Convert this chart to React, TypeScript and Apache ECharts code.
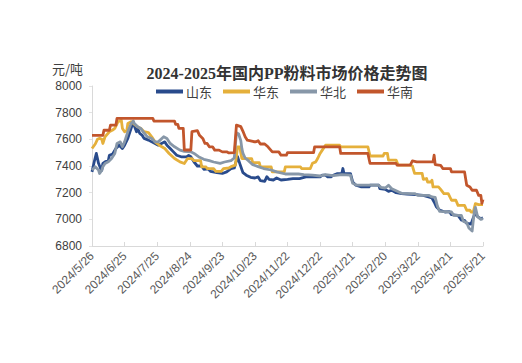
import React, { useEffect, useRef } from "react";
import * as echarts from "echarts";

const titleText = "2024-2025年国内PP粉料市场价格走势图";
const yAxisName = "元/吨";
const seriesNames = ["山东", "华东", "华北", "华南"];
const xTickLabels = [
  "2024/5/26", "2024/6/25", "2024/7/25", "2024/8/24", "2024/9/23", "2024/10/23",
  "2024/11/22", "2024/12/22", "2025/1/21", "2025/2/20", "2025/3/22", "2025/4/21", "2025/5/21",
];

// [day index from 2024/5/26, price]
const shandong: number[][] = [
  [0,7356],[2,7430],[4,7494],[6,7420],[8,7380],[9,7368],[10,7420],[12,7431],[15,7440],[16,7481],[19,7490],[22,7531],[25,7556],[28,7531],[30,7556],[33,7607],[36,7682],[38,7732],[39,7700],[41,7657],[42,7682],[44,7644],[46,7632],[48,7607],[52,7594],[55,7581],[58,7569],[61,7556],[64,7569],[67,7581],[69,7556],[72,7531],[75,7506],[78,7481],[82,7469],[87,7469],[89,7480],[91,7470],[94,7430],[97,7400],[101,7400],[103,7375],[107,7378],[109,7360],[115,7350],[120,7344],[124,7356],[128,7380],[131,7385],[134,7470],[136,7420],[139,7350],[142,7331],[146,7315],[150,7310],[153,7318],[155,7290],[159,7285],[161,7320],[163,7300],[167,7295],[170,7310],[174,7295],[180,7300],[185,7306],[191,7306],[197,7318],[210,7318],[212,7331],[215,7331],[217,7318],[220,7318],[222,7331],[226,7343],[230,7343],[231,7381],[232,7343],[238,7343],[240,7281],[243,7256],[248,7243],[255,7243],[256,7256],[264,7256],[265,7230],[270,7225],[273,7210],[276,7218],[280,7200],[285,7193],[290,7190],[298,7185],[305,7180],[309,7170],[313,7160],[315,7130],[317,7095],[320,7070],[325,7055],[329,7058],[331,7035],[337,7030],[340,6995],[343,6992],[345,6970],[349,6965],[351,7010],[353,7050],[355,7020],[358,7005],[360,7012],
];
const huadong: number[][] = [
  [0,7531],[3,7565],[5,7600],[7,7607],[9,7600],[10,7569],[12,7619],[16,7657],[19,7670],[21,7682],[24,7732],[27,7744],[28,7682],[30,7657],[32,7665],[33,7719],[36,7732],[38,7720],[42,7694],[45,7682],[48,7657],[52,7650],[55,7619],[58,7581],[62,7556],[67,7531],[71,7494],[76,7456],[81,7431],[85,7419],[88,7456],[92,7456],[94,7440],[100,7440],[101,7393],[105,7393],[106,7381],[112,7381],[114,7360],[119,7360],[121,7380],[126,7385],[128,7395],[132,7406],[134,7544],[136,7544],[137,7500],[138,7456],[147,7456],[148,7425],[154,7425],[155,7393],[165,7393],[166,7356],[177,7356],[178,7393],[192,7393],[193,7381],[201,7381],[203,7420],[206,7431],[208,7460],[210,7494],[212,7519],[215,7556],[228,7556],[229,7544],[254,7544],[256,7475],[268,7475],[269,7494],[272,7494],[273,7444],[280,7444],[282,7406],[293,7406],[295,7400],[297,7344],[304,7344],[305,7300],[308,7306],[309,7280],[312,7280],[313,7293],[314,7243],[319,7243],[321,7225],[324,7193],[328,7193],[330,7160],[331,7143],[335,7143],[337,7105],[343,7105],[345,7068],[348,7068],[349,7055],[351,7055],[353,7118],[356,7110],[360,7110],
];
const huabei: number[][] = [
  [0,7369],[3,7394],[6,7369],[7,7344],[9,7369],[10,7394],[12,7419],[15,7431],[18,7456],[21,7494],[23,7569],[26,7581],[28,7544],[30,7581],[33,7657],[36,7719],[38,7737],[39,7719],[42,7694],[45,7682],[47,7657],[51,7619],[55,7606],[58,7581],[61,7581],[66,7619],[69,7606],[72,7569],[76,7544],[81,7519],[85,7510],[91,7506],[94,7494],[99,7465],[103,7450],[108,7440],[112,7430],[118,7420],[122,7430],[128,7440],[131,7460],[133,7650],[135,7640],[137,7590],[138,7530],[139,7494],[141,7460],[144,7440],[148,7410],[153,7395],[158,7381],[165,7370],[170,7356],[178,7340],[190,7340],[195,7335],[203,7331],[210,7325],[215,7335],[222,7328],[230,7336],[238,7331],[240,7270],[244,7256],[264,7256],[266,7240],[270,7235],[273,7255],[276,7230],[279,7218],[285,7195],[297,7193],[300,7180],[310,7180],[313,7168],[316,7165],[318,7100],[320,7060],[331,7055],[333,7030],[340,7030],[342,6985],[345,6975],[347,6935],[350,6912],[352,7060],[353,7090],[355,7020],[358,7000],[360,7005],
];
const huanan: number[][] = [
  [0,7630],[10,7630],[11,7668],[16,7668],[17,7706],[22,7706],[23,7757],[56,7757],[57,7737],[76,7737],[77,7712],[79,7712],[80,7682],[84,7682],[85,7520],[91,7520],[92,7657],[97,7665],[99,7630],[102,7607],[104,7569],[106,7569],[108,7544],[111,7544],[113,7519],[117,7519],[120,7506],[124,7506],[126,7498],[131,7500],[133,7707],[137,7695],[139,7660],[141,7620],[143,7594],[149,7582],[151,7582],[153,7590],[155,7565],[159,7565],[162,7544],[166,7506],[172,7506],[174,7481],[179,7481],[180,7500],[204,7500],[205,7544],[228,7544],[229,7494],[254,7494],[256,7419],[280,7419],[281,7406],[293,7406],[295,7438],[299,7431],[314,7431],[315,7481],[316,7410],[321,7405],[323,7381],[330,7381],[331,7356],[343,7356],[345,7256],[348,7243],[350,7218],[354,7218],[356,7180],[358,7180],[359,7120],[360,7150],
];

const seriesData = [shandong, huadong, huabei, huanan];
const colors = ["#294b8c", "#e5b03b", "#8797a8", "#c2562c"];

export default function App() {
  const ref = useRef<HTMLDivElement>(null);
  useEffect(() => {
    if (!ref.current) return;
    const chart = echarts.init(ref.current, null, { renderer: "svg" });
    chart.setOption({
      animation: false,
      backgroundColor: "#ffffff",
      title: {
        text: titleText,
        left: 282,
        textAlign: "center",
        top: 60,
        textStyle: {
          fontSize: 16,
          fontWeight: "bold",
          color: "#333333",
          fontFamily: "'Liberation Serif', 'Noto Sans CJK SC', serif",
        },
      },
      legend: {
        data: seriesNames,
        left: 151,
        top: 80,
        icon: "rect",
        itemWidth: 27,
        itemHeight: 4,
        itemGap: 11,
        textStyle: { fontSize: 13, color: "#404040", fontFamily: "'Noto Sans CJK SC', sans-serif", padding: [0, 0, 0, -2] },
      },
      grid: { left: 92, right: 39, top: 86, bottom: 117, containLabel: false },
      xAxis: {
        type: "value",
        min: 0,
        max: 360,
        interval: 30,
        splitLine: { show: false },
        axisLine: { show: true, lineStyle: { color: "#d9d9d9", width: 1 } },
        axisTick: { show: true, inside: true, length: 4, lineStyle: { color: "#d9d9d9" } },
        axisLabel: {
          rotate: 45,
          margin: 8,
          fontSize: 12,
          color: "#595959",
          fontFamily: "'Liberation Sans', sans-serif",
          formatter: (v: number) => xTickLabels[Math.round(v / 30)] ?? "",
        },
      },
      yAxis: {
        type: "value",
        min: 6800,
        max: 8000,
        interval: 200,
        name: yAxisName,
        nameLocation: "end",
        nameGap: 11,
        nameTextStyle: {
          fontSize: 13,
          color: "#404040",
          align: "right",
          padding: [0, 9, 0, 0],
          fontFamily: "'Noto Sans CJK SC', sans-serif",
        },
        splitLine: { show: false },
        axisLine: { show: true, lineStyle: { color: "#d9d9d9", width: 1 } },
        axisTick: { show: true, length: 3, lineStyle: { color: "#e3e3e3" } },
        axisLabel: {
          margin: 10,
          fontSize: 12,
          color: "#404040",
          fontFamily: "'Liberation Sans', sans-serif",
          formatter: (v: number) => String(v),
        },
      },
      series: seriesNames.map((name, i) => ({
        name,
        type: "line",
        data: seriesData[i],
        symbol: "none",
        lineStyle: { width: 2.8, color: colors[i], join: "round" },
        itemStyle: { color: colors[i] },
      })),
    });
    return () => chart.dispose();
  }, []);
  return (
    <div
      ref={ref}
      style={{ position: "fixed", left: 0, top: 0, width: 522, height: 363, background: "#fff" }}
    />
  );
}
